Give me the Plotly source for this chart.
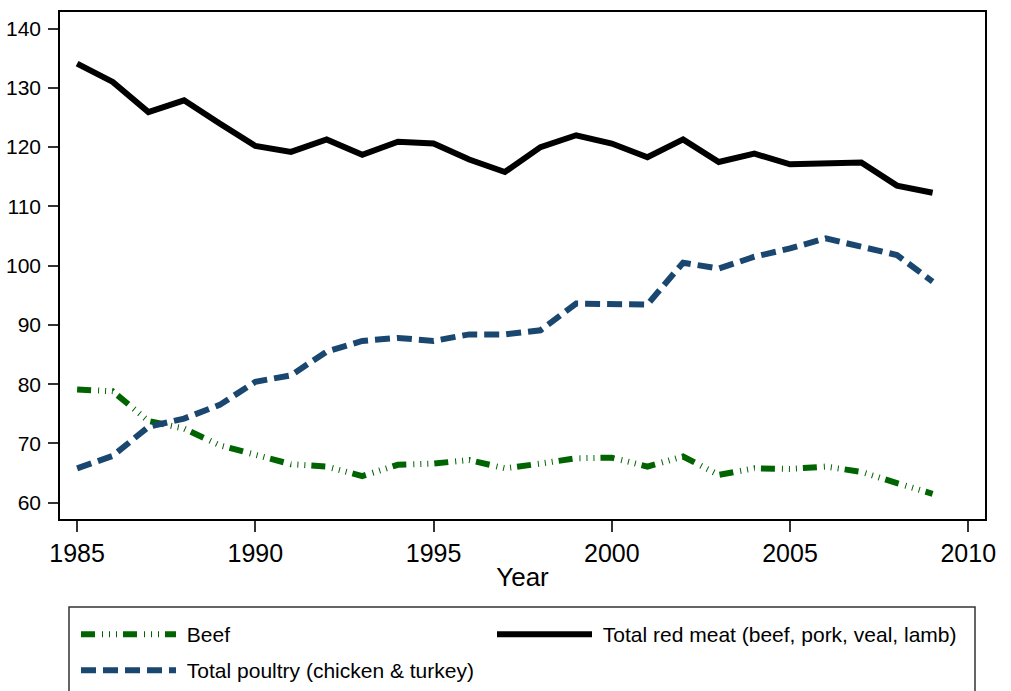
import plotly.graph_objects as go

years = list(range(1985, 2010))
beef = [79.1, 78.8, 73.8, 72.5, 69.7, 68.0, 66.5, 66.1, 64.5, 66.4, 66.6, 67.2, 65.8,
        66.6, 67.5, 67.6, 66.1, 67.8, 64.7, 65.8, 65.7, 66.1, 65.2, 63.3, 61.5]
red_meat = [134.1, 131.0, 125.9, 127.9, 124.0, 120.2, 119.2, 121.3, 118.7, 120.9, 120.6, 117.9, 115.8,
            120.0, 122.0, 120.6, 118.3, 121.3, 117.5, 118.9, 117.1, 117.2, 117.4, 113.5, 112.3]
poultry = [65.8, 67.9, 72.8, 74.2, 76.5, 80.4, 81.5, 85.5, 87.3, 87.8, 87.3, 88.4, 88.4,
           89.1, 93.6, 93.45, 93.45, 100.5, 99.5, 101.5, 102.9, 104.6, 103.2, 101.8, 97.3]

x_ticks = [1985, 1990, 1995, 2000, 2005, 2010]
y_ticks = [60, 70, 80, 90, 100, 110, 120, 130, 140]

FONT = "Arial, Liberation Sans, sans-serif"
GREEN = "#006400"
BLUE = "#1a476f"
PAD = "\u00a0"

fig = go.Figure()
fig.add_trace(go.Scatter(x=years, y=beef, mode="lines", name=PAD + "Beef",
                         legend="legend",
                         line=dict(color=GREEN, width=6, dash="14px,7px,1px,6px,1px,6px,1px,6px")))
fig.add_trace(go.Scatter(x=years, y=red_meat, mode="lines", name=PAD + "Total red meat (beef, pork, veal, lamb)",
                         legend="legend2",
                         line=dict(color="black", width=6)))
fig.add_trace(go.Scatter(x=years, y=poultry, mode="lines", name=PAD + "Total poultry (chicken & turkey)",
                         legend="legend3",
                         line=dict(color=BLUE, width=6, dash="15px,7px")))

W, H = 1011, 691
L, R, T, B = 60, 26, 12, 172
ph = H - T - B

def py(p):
    return (H - B - p) / ph

def px(p):
    return (p - L) / (W - L - R)

leg_common = dict(orientation="v", xanchor="left", yanchor="top",
                  font=dict(size=21, family=FONT), itemwidth=95,
                  bgcolor="rgba(0,0,0,0)", borderwidth=0,
                  itemclick=False, itemdoubleclick=False)

fig.update_layout(
    width=W, height=H,
    margin=dict(l=L, r=R, t=T, b=B, autoexpand=False),
    paper_bgcolor="white", plot_bgcolor="white",
    font=dict(family=FONT, color="black"),
    showlegend=True,
    legend=dict(x=px(76), y=py(614), **leg_common),
    legend2=dict(x=px(492), y=py(614), **leg_common),
    legend3=dict(x=px(76), y=py(650), **leg_common),
    shapes=[dict(type="rect", xref="paper", yref="paper", x0=px(69), x1=px(975),
                 y0=py(760), y1=py(607), line=dict(color="#333333", width=1.5),
                 fillcolor="rgba(0,0,0,0)", layer="below")],
)

fig.update_xaxes(range=[1984.52, 2010.47], tickvals=x_ticks, ticktext=[str(v) for v in x_ticks],
                 ticks="outside", ticklen=11, tickwidth=1.5, tickcolor="#333333",
                 tickfont=dict(size=25, family=FONT), automargin=False,
                 showline=True, linecolor="black", linewidth=1.5, mirror=True,
                 showgrid=False, zeroline=False,
                 title=dict(text="Year", font=dict(size=26, family=FONT), standoff=2))
fig.update_yaxes(range=[57.25, 142.8], tickvals=y_ticks, ticktext=[str(v) for v in y_ticks],
                 ticks="outside", ticklen=10, tickwidth=1.5, tickcolor="#333333",
                 tickfont=dict(size=21, family=FONT), automargin=False, ticklabelstandoff=3,
                 showline=True, linecolor="black", linewidth=1.5, mirror=True,
                 showgrid=False, zeroline=False)

fig.write_html("out.html")
